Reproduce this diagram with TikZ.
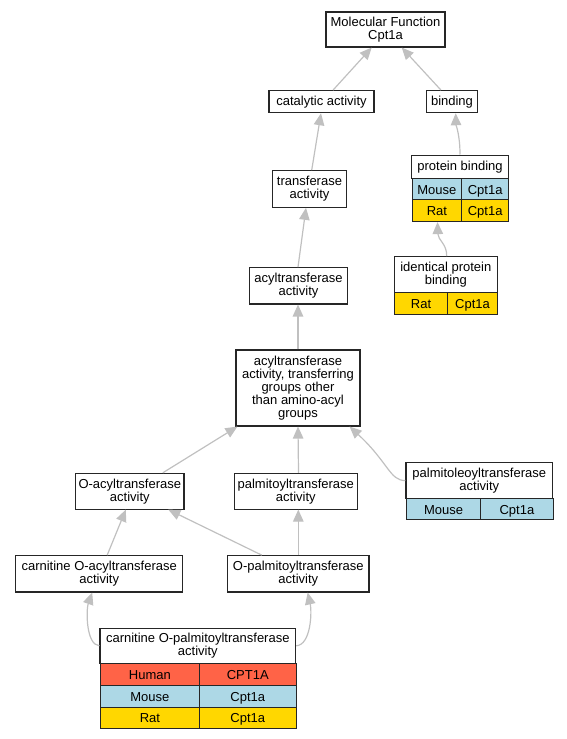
\documentclass[tikz,border=0pt]{standalone}
\usepackage{fontspec}
\setmainfont{Liberation Sans}
\usepackage{xcolor}
\usepackage{tikz}
\usetikzlibrary{arrows.meta}
\definecolor{human}{HTML}{FF6347}
\definecolor{mouse}{HTML}{ADD8E6}
\definecolor{rat}{HTML}{FFD700}
\definecolor{isagray}{HTML}{C0C0C0}
\tikzset{
  term/.style={draw=black!85, line width=1.1pt, fill=white, align=center, inner sep=0pt,
    font=\fontsize{13}{13}\selectfont},
  cell/.style={draw=black!85, line width=1.1pt, anchor=north west, inner sep=0pt,
    text height=9.3pt, text depth=0pt, font=\fontsize{13}{13}\selectfont},
  isa/.style={draw=isagray, line width=1.2pt, -{Triangle[length=12pt,width=10.5pt]}}
}

\begin{document}
\begin{tikzpicture}[x=1pt,y=-1pt]
  \useasboundingbox (0,0) rectangle (567,739);

  \node[term, minimum width=119pt, minimum height=35pt] (mf) at (385.5,29.5) {Molecular Function\\Cpt1a};
  \node[term, minimum width=105pt, minimum height=22pt] (cat) at (321.5,101.7) {catalytic activity};
  \node[term, minimum width=50.6pt, minimum height=22pt] (bind) at (452,101.7) {binding};
  \node[term, minimum width=74.4pt, minimum height=36.6pt] (trans) at (309.5,189) {transferase\\activity};
  \node[term, minimum width=98.4pt, minimum height=36.3pt] (acyl) at (298.5,285.8) {acyltransferase\\activity};
  \node[term, minimum width=124pt, minimum height=76pt] (big) at (298,388)
    {acyltransferase\\activity, transferring\\groups other\\than amino-acyl\\groups};
  \node[term, minimum width=108.3pt, minimum height=35.7pt] (oacyl) at (129.8,491.2) {O-acyltransferase\\activity};
  \node[term, minimum width=123pt, minimum height=35.7pt] (palm) at (295.8,491.2) {palmitoyltransferase\\activity};
  \node[term, minimum width=167pt, minimum height=36.3pt] (coacyl) at (99.2,573.8) {carnitine O-acyltransferase\\activity};
  \node[term, minimum width=141.3pt, minimum height=36.3pt] (opalm) at (298.3,573.8) {O-palmitoyltransferase\\activity};

  % protein binding
  \node[term, minimum width=96.6pt, minimum height=23.3pt] (prot) at (460,166.7) {protein binding};
  \node[cell, fill=mouse, minimum width=49.3pt, minimum height=21pt] (prot-m1) at (411.7,178.3) {Mouse};
  \node[cell, fill=mouse, minimum width=47.3pt, minimum height=21pt] (prot-m2) at (461,178.3) {Cpt1a};
  \node[cell, fill=rat, minimum width=49.3pt, minimum height=21.7pt] (prot-r1) at (411.7,199.3) {Rat};
  \node[cell, fill=rat, minimum width=47.3pt, minimum height=21.7pt] (prot-r2) at (461,199.3) {Cpt1a};

  % identical protein binding
  \node[term, minimum width=103pt, minimum height=35.6pt] (ident) at (445.8,274.5) {identical protein\\binding};
  \node[cell, fill=rat, minimum width=52.4pt, minimum height=21.7pt] (ident-r1) at (394.3,292.3) {Rat};
  \node[cell, fill=rat, minimum width=50.6pt, minimum height=21.7pt] (ident-r2) at (446.7,292.3) {Cpt1a};

  % palmitoleoyltransferase activity
  \node[term, minimum width=146.7pt, minimum height=35.6pt] (ole) at (479.3,480.5) {palmitoleoyltransferase\\activity};
  \node[cell, fill=mouse, minimum width=74pt, minimum height=21pt] (ole-m1) at (406,498.3) {Mouse};
  \node[cell, fill=mouse, minimum width=72.7pt, minimum height=21pt] (ole-m2) at (480,498.3) {Cpt1a};

  % carnitine O-palmitoyltransferase activity
  \node[term, minimum width=195.7pt, minimum height=35pt] (cpt) at (197.8,645.8) {carnitine O-palmitoyltransferase\\activity};
  \node[cell, fill=human, minimum width=98.7pt, minimum height=21.7pt] (cpt-h1) at (100,663.3) {Human};
  \node[cell, fill=human, minimum width=97pt, minimum height=21.7pt] (cpt-h2) at (198.7,663.3) {CPT1A};
  \node[cell, fill=mouse, minimum width=98.7pt, minimum height=21.7pt] (cpt-m1) at (100,685) {Mouse};
  \node[cell, fill=mouse, minimum width=97pt, minimum height=21.7pt] (cpt-m2) at (198.7,685) {Cpt1a};
  \node[cell, fill=rat, minimum width=98.7pt, minimum height=21pt] (cpt-r1) at (100,706.7) {Rat};
  \node[cell, fill=rat, minimum width=97pt, minimum height=21pt] (cpt-r2) at (198.7,706.7) {Cpt1a};

  \path
    ([xshift=11.5pt]cat.north) edge[isa] ([xshift=-13.8pt]mf.south)
    ([xshift=-11pt]bind.north) edge[isa] ([xshift=16.2pt]mf.south)
    ([xshift=2.2pt]trans.north) edge[isa] ([xshift=-0.5pt]cat.south)
    ([xshift=-0.5pt]acyl.north) edge[isa] ([xshift=-3.5pt]trans.south)
    (big.north) edge[isa] ([xshift=-0.5pt]acyl.south)
    ([xshift=33pt]oacyl.north) edge[isa] ([xshift=2pt]big.south west)
    ([xshift=2.7pt]palm.north) edge[isa] (big.south)
    ([xshift=8pt]coacyl.north) edge[isa] ([xshift=-4pt]oacyl.south)
    ([xshift=-36.6pt]opalm.north) edge[isa] ([xshift=38.5pt]oacyl.south)
    (opalm.north) edge[isa] ([xshift=2.5pt]palm.south);

  \draw[isa] (prot.north) .. controls (460,135) and (456,125) .. ([xshift=3.7pt]bind.south);
  \draw[isa] ([xshift=0.9pt]ident.north) .. controls (447,244) and (438,240) .. ([xshift=0.6pt]prot-r1.south);
  \draw[isa] (ole.west) .. controls (390,481) and (388,462) .. ([xshift=-11pt]big.south east);
  \draw[isa] (cpt.west) .. controls (86,645) and (86,610) .. ([xshift=-7pt]coacyl.south);
  \draw[isa] (cpt.east) .. controls (311,645) and (312,612) .. ([xshift=9.4pt]opalm.south);
\end{tikzpicture}
\end{document}
